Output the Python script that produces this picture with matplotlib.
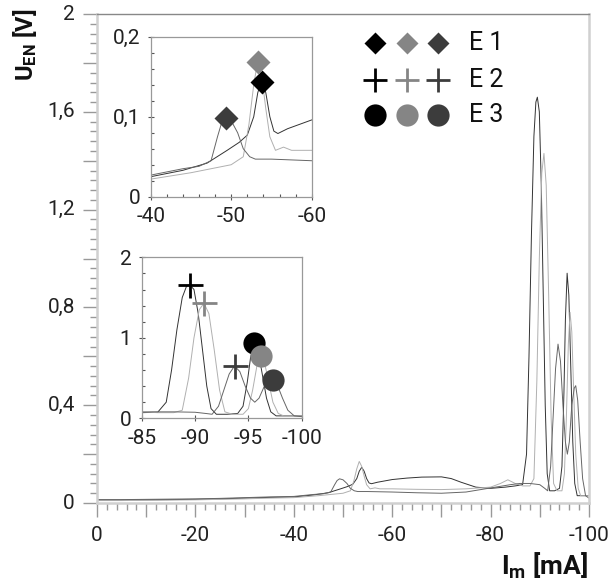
import matplotlib
matplotlib.use("Agg")
import matplotlib.pyplot as plt
from matplotlib.ticker import MultipleLocator, FixedLocator, FixedFormatter

plt.rcParams['font.family'] = ['Roboto', 'DejaVu Sans']
plt.rcParams['mathtext.fontset'] = 'custom'
plt.rcParams['mathtext.rm'] = 'Roboto'
plt.rcParams['mathtext.bf'] = 'Roboto:bold'

# three measured curves (I_m in mA, U_EN in V)
x_blk = [0, -5, -10, -15, -20, -25, -30, -35, -40, -44, -47, -49.5, -51, -52, -52.8, -53.3, -53.8,
         -54.3, -54.8, -55.3, -55.8, -57, -60, -63, -66, -70, -72, -74, -77, -80, -83, -85, -86.5,
         -87.3, -87.8, -88.3, -88.8, -89.2, -89.5, -89.9, -90.3, -90.7, -91.1, -91.5, -92, -93, -94,
         -94.5, -94.9, -95.2, -95.55, -95.9, -96.3, -96.7, -97.1, -97.6, -98, -99, -100]
y_blk = [0.012, 0.012, 0.013, 0.014, 0.015, 0.017, 0.02, 0.023, 0.025, 0.033, 0.042, 0.058, 0.068,
         0.077, 0.10, 0.13, 0.146, 0.13, 0.10, 0.082, 0.079, 0.085, 0.096, 0.102, 0.106, 0.107, 0.1,
         0.085, 0.065, 0.06, 0.065, 0.07, 0.075, 0.2, 0.6, 1.1, 1.5, 1.64, 1.66, 1.6, 1.3, 0.85, 0.4,
         0.12, 0.05, 0.05, 0.06, 0.15, 0.45, 0.75, 0.94, 0.85, 0.55, 0.25, 0.08, 0.03, 0.03, 0.03, 0.03]

x_gry = [0, -5, -10, -15, -20, -25, -30, -35, -40, -45, -50, -51.5, -52.2, -52.8, -53.3, -53.8,
         -54.3, -54.8, -55.5, -56.5, -57.5, -60, -65, -70, -75, -80, -82, -83.5, -85, -86.5, -88,
         -88.8, -89.4, -89.9, -90.4, -90.84, -91.3, -91.8, -92.3, -92.8, -93.5, -94.5, -95, -95.4,
         -95.8, -96.15, -96.5, -96.9, -97.3, -97.8, -98.3, -99, -100]
y_gry = [0.01, 0.01, 0.011, 0.012, 0.013, 0.015, 0.017, 0.02, 0.022, 0.03, 0.04, 0.05, 0.09, 0.14,
         0.17, 0.15, 0.11, 0.075, 0.058, 0.062, 0.058, 0.058, 0.056, 0.055, 0.058, 0.065, 0.08, 0.095,
         0.08, 0.07, 0.07, 0.1, 0.5, 1.0, 1.35, 1.43, 1.3, 0.85, 0.35, 0.08, 0.05, 0.05, 0.12, 0.35,
         0.65, 0.78, 0.7, 0.45, 0.2, 0.06, 0.03, 0.03, 0.03]

x_dk = [0, -5, -10, -15, -20, -25, -30, -35, -40, -44, -46, -47.5, -48.3, -48.8, -49.3, -50, -50.8,
        -51.5, -52.3, -53, -55, -60, -65, -70, -75, -78, -81, -84, -86, -88, -90, -91, -91.6, -92.2,
        -92.7, -93.2, -93.7, -94.2, -94.7, -95.2, -95.6, -96, -96.5, -97, -97.3, -97.7, -98.2, -98.7,
        -99.3, -100]
y_dk = [0.014, 0.014, 0.015, 0.016, 0.017, 0.019, 0.022, 0.025, 0.027, 0.035, 0.038, 0.045, 0.075,
        0.092, 0.099, 0.095, 0.08, 0.06, 0.05, 0.047, 0.047, 0.045, 0.042, 0.04, 0.045, 0.055, 0.065,
        0.075, 0.08, 0.08, 0.075, 0.06, 0.05, 0.15, 0.35, 0.55, 0.65, 0.58, 0.4, 0.25, 0.2, 0.25, 0.4,
        0.47, 0.48, 0.42, 0.25, 0.1, 0.03, 0.02]

# marked peaks: E1 (diamonds), E2 (crosses), E3 (circles); order black, gray, dark gray
e1_x = [-53.8, -53.3, -49.3]
e1_y = [0.144, 0.169, 0.099]
e2_x = [-89.5, -90.84, -93.7]
e2_y = [1.66, 1.43, 0.65]
e3_x = [-95.55, -96.15, -97.3]
e3_y = [0.94, 0.78, 0.48]

legend_labels = ["E 1", "E 2", "E 3"]
main_yticks = [0, 0.4, 0.8, 1.2, 1.6, 2]
main_ylabels = ["0", "0,4", "0,8", "1,2", "1,6", "2"]
main_xticks = [0, -20, -40, -60, -80, -100]
in1_yticks = [0, 0.1, 0.2]
in1_ylabels = ["0", "0,1", "0,2"]
in1_xticks = [-40, -50, -60]
in2_yticks = [0, 1, 2]
in2_xticks = [-85, -90, -95, -100]

line_cols = ['#333333', '#b0b0b0', '#666666']
mark_cols = ['#000000', '#858585', '#3c3c3c']
curves = [(x_blk, y_blk), (x_gry, y_gry), (x_dk, y_dk)]

fig = plt.figure(figsize=(6.1, 5.86), dpi=100)
ax = fig.add_axes([0.159, 0.1416, 0.8066, 0.8344])

for (xs, ys), c in zip(curves, line_cols):
    ax.plot(xs, ys, color=c, lw=0.7)

ax.set_xlim(0, -100)
ax.set_ylim(0, 2)
ax.xaxis.set_major_locator(MultipleLocator(10))
ax.xaxis.set_minor_locator(MultipleLocator(2))
ax.xaxis.set_major_formatter(FixedFormatter([]))
ax.yaxis.set_major_locator(MultipleLocator(0.2))
ax.yaxis.set_minor_locator(MultipleLocator(0.04))
ax.yaxis.set_major_formatter(FixedFormatter([]))
ax.tick_params(which='major', length=10, width=1, color='#999999')
ax.tick_params(which='minor', length=5, width=1, color='#999999')
for v in main_xticks:
    ax.text(v, -0.094, str(v), ha='center', va='top', fontsize=15, color='#222222')
for v, lab in zip(main_yticks, main_ylabels):
    ax.text(-0.045, v, lab, ha='right', va='center', fontsize=15, color='#222222',
            transform=ax.get_yaxis_transform())
for side in ['left', 'bottom', 'right']:
    ax.spines[side].set_color('#d0d0d0')
    ax.spines[side].set_linewidth(1.8)
ax.spines['top'].set_color('#888888')
ax.spines['top'].set_linewidth(1.0)

# legend block
lx = [0.565, 0.630, 0.694]
ly = [0.941, 0.866, 0.794]
for i in range(3):
    ax.plot(lx[i], ly[0], 'D', ms=11, color=mark_cols[i], mec='none', transform=ax.transAxes)
    ax.plot(lx[i], ly[1], '+', ms=17, mew=2, color=mark_cols[i], transform=ax.transAxes)
    ax.plot(lx[i], ly[2], 'o', ms=16, color=mark_cols[i], mec='none', transform=ax.transAxes)
for yy, lab in zip(ly, legend_labels):
    ax.text(0.757, yy, lab, ha='left', va='center', fontsize=18, color='#111111', transform=ax.transAxes)

fig.text(25 / 610, 1 - 45 / 586, r"$\mathbf{U_{EN}}$ [V]", rotation=90, ha='center', va='center',
         fontsize=17, fontweight='bold', color='#111111')
fig.text(588 / 610, 1 - 566 / 586, r"$\mathbf{I_{m}}$ [mA]", ha='right', va='center',
         fontsize=19, fontweight='bold', color='#111111')


def style_inset(a):
    for s in a.spines.values():
        s.set_color('#999999')
        s.set_linewidth(0.9)
    a.tick_params(which='major', direction='inout', length=5, width=0.8, color='#555555',
                  labelsize=15, labelcolor='#222222', pad=5)
    a.tick_params(which='minor', direction='in', length=2.5, width=0.8, color='#555555')


# inset 1: E1 peaks
a1 = fig.add_axes([0.247, 0.6643, 0.264, 0.273])
for (xs, ys), c in zip(curves, line_cols):
    a1.plot(xs, ys, color=c, lw=0.7)
for i in range(3):
    a1.plot(e1_x[i], e1_y[i], 'D', ms=12, color=mark_cols[i], mec='none')
a1.set_xlim(-40, -60)
a1.set_ylim(0, 0.2)
a1.yaxis.set_major_locator(FixedLocator(in1_yticks))
a1.yaxis.set_major_formatter(FixedFormatter(in1_ylabels))
a1.yaxis.set_minor_locator(MultipleLocator(0.02))
a1.xaxis.set_major_locator(FixedLocator(in1_xticks))
a1.xaxis.set_major_formatter(FixedFormatter([str(v) for v in in1_xticks]))
a1.xaxis.set_minor_locator(MultipleLocator(2))
style_inset(a1)

# inset 2: E2 and E3 peaks
a2 = fig.add_axes([0.2323, 0.2862, 0.2623, 0.2747])
for (xs, ys), c in zip(curves, line_cols):
    a2.plot(xs, ys, color=c, lw=0.7)
for i in range(3):
    a2.plot(e2_x[i], e2_y[i], '+', ms=18, mew=2, color=mark_cols[i])
for i in range(3):
    a2.plot(e3_x[i], e3_y[i], 'o', ms=16, color=mark_cols[i], mec='none')
a2.set_xlim(-85, -100)
a2.set_ylim(0, 2)
a2.yaxis.set_major_locator(FixedLocator(in2_yticks))
a2.yaxis.set_major_formatter(FixedFormatter([str(v) for v in in2_yticks]))
a2.yaxis.set_minor_locator(MultipleLocator(0.2))
a2.xaxis.set_major_locator(FixedLocator(in2_xticks))
a2.xaxis.set_major_formatter(FixedFormatter([str(v) for v in in2_xticks]))
style_inset(a2)

fig.savefig("out.png", dpi=100)
